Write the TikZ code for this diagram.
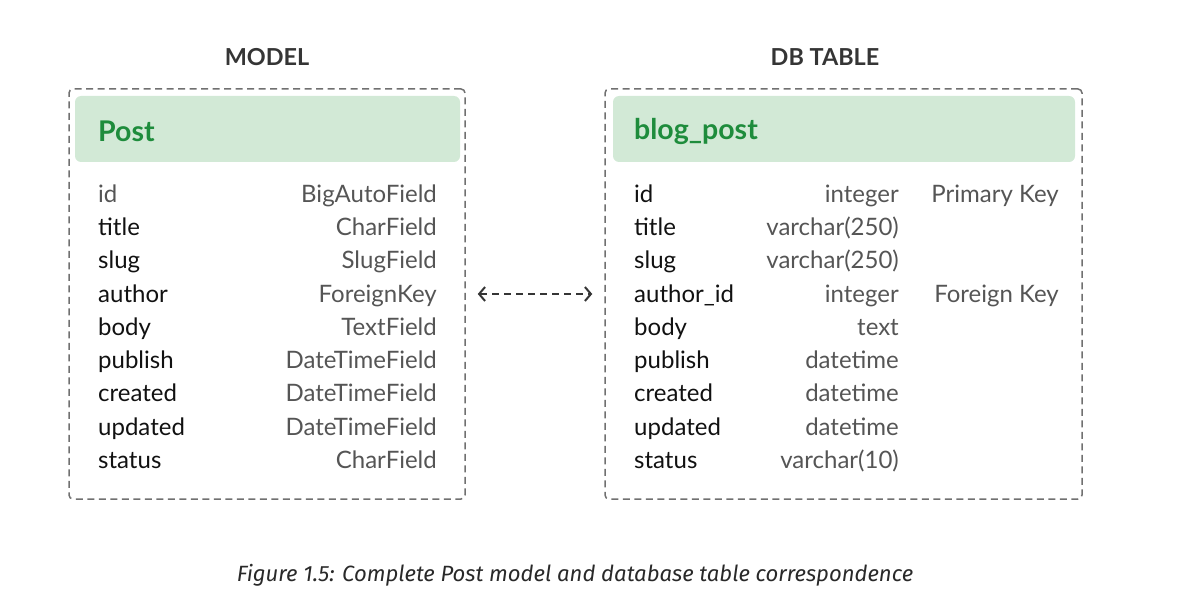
\documentclass[tikz,border=0pt]{standalone}
\usepackage{fontspec}
\setmainfont{Lato}
\newfontfamily\capfont{Fira Sans}
\usetikzlibrary{arrows.meta, positioning, calc}
\definecolor{headfill}{HTML}{D2E9D6}
\definecolor{headtext}{HTML}{1E8C3C}
\definecolor{graytext}{HTML}{555555}
\definecolor{darktext}{HTML}{111111}
\definecolor{framegray}{HTML}{707070}

\begin{document}
\begin{tikzpicture}[
  x=1pt, y=-1pt,
  every node/.style={inner sep=0pt, font=\fontsize{24}{27}\selectfont},
  frame/.style={draw=framegray, line width=1.5pt, dash pattern=on 7pt off 4.5pt,
                rounded corners=4pt},
  header/.style={fill=headfill, rounded corners=6pt, minimum height=66pt},
  heading/.style={font=\fontsize{23.4}{27}\selectfont\bfseries, text=darktext!85},
  tname/.style={anchor=west, font=\fontsize{28.5}{32}\selectfont\bfseries, text=headtext},
  field/.style={anchor=base west, text=darktext},
  ftype/.style={anchor=base east, text=graytext},
  link/.style={{Straight Barb[length=6pt, width=14pt]}-{Straight Barb[length=6pt, width=14pt]},
               line width=2pt, color=darktext!85, dash pattern=on 7pt off 5pt,
               shorten <=12pt, shorten >=12pt},
]
\useasboundingbox (0,0) rectangle (1186,591);

% Headings
\node[heading] (modelhead) at (267,57) {MODEL};
\node[heading] (tablehead) at (825,57) {DB TABLE};

% Model box
\node[frame, minimum width=396pt, minimum height=410pt] (modelbox) at (267,294) {};
\node[header, minimum width=385pt] (postbar) at (267.5,129) {};
\node[tname] (posttitle) at (98,131) {Post};
\node[field, text=graytext] (mid) at (98,202) {id};
\node[field] (mtitle) at (98,235) {title};
\node[field] (mslug) at (98,268) {slug};
\node[field] (mauthor) at (98,302) {author};
\node[field] (mbody) at (98,335) {body};
\node[field] (mpublish) at (98,368) {publish};
\node[field] (mcreated) at (98,401) {created};
\node[field] (mupdated) at (98,435) {updated};
\node[field] (mstatus) at (98,468) {status};
\node[ftype] at (437,202) {BigAutoField};
\node[ftype] at (437,235) {CharField};
\node[ftype] at (437,268) {SlugField};
\node[ftype] at (437,302) {ForeignKey};
\node[ftype] at (437,335) {TextField};
\node[ftype] at (437,368) {DateTimeField};
\node[ftype] at (437,401) {DateTimeField};
\node[ftype] at (437,435) {DateTimeField};
\node[ftype] at (437,468) {CharField};

% Table box
\node[frame, minimum width=477pt, minimum height=410pt] (tablebox) at (843.5,294) {};
\node[header, minimum width=462pt] (blogbar) at (844,129) {};
\node[tname] (blogtitle) at (634,131) {blog\_post};
\node[field] (tid) at (634,202) {id};
\node[field] (ttitle) at (634,235) {title};
\node[field] (tslug) at (634,268) {slug};
\node[field] (tauthor) at (634,302) {author\_id};
\node[field] (tbody) at (634,335) {body};
\node[field] (tpublish) at (634,368) {publish};
\node[field] (tcreated) at (634,401) {created};
\node[field] (tupdated) at (634,435) {updated};
\node[field] (tstatus) at (634,468) {status};
\node[ftype] at (899,202) {integer};
\node[ftype] at (899,235) {varchar(250)};
\node[ftype] at (899,268) {varchar(250)};
\node[ftype] at (899,302) {integer};
\node[ftype] at (899,335) {text};
\node[ftype] at (899,368) {datetime};
\node[ftype] at (899,401) {datetime};
\node[ftype] at (899,435) {datetime};
\node[ftype] at (899,468) {varchar(10)};
\node[ftype] (pkey) at (1059,202) {Primary Key};
\node[ftype] (fkey) at (1059,302) {Foreign Key};

% Correspondence
\draw[link] (modelbox.east |- 0,294) -- (tablebox.west |- 0,294);

% Caption
\node[font=\capfont\itshape\fontsize{22.1}{25}\selectfont, text=darktext!90] (caption) at (575,575) {Figure 1.5: Complete Post model and database table correspondence};
\end{tikzpicture}
\end{document}
